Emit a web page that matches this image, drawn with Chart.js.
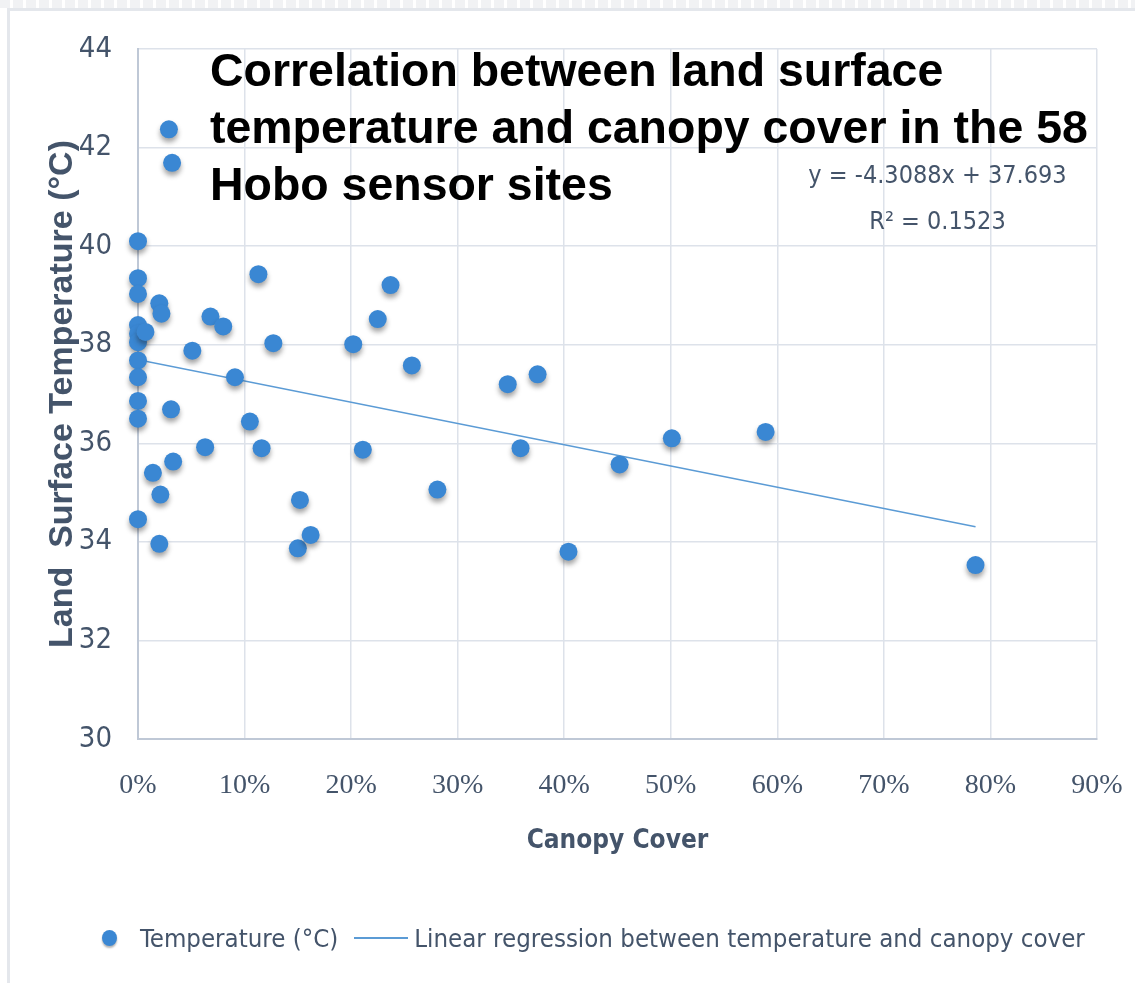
<!DOCTYPE html>
<html>
<head>
<meta charset="utf-8">
<title>Land surface temperature vs canopy cover</title>
<script src="https://cdn.jsdelivr.net/npm/chart.js@4.4.1/dist/chart.umd.min.js"></script>
<style>
  body { margin: 0; background: #fff; }
  #wrap { position: relative; width: 1135px; height: 983px; overflow: hidden; background: #fff; }
  #strip { position: absolute; left: 0; top: 0; width: 1135px; height: 8px;
    background: repeating-linear-gradient(90deg, #f1f2f4 0 10px, #fff 10px 13px); }
  #frame { position: absolute; left: 7px; top: 8px; width: 1200px; height: 1100px;
    border-left: 3px solid #e4e7ec; border-top: 3px solid #e4e7ec; }
  #chart-box { position: absolute; left: 0; top: 0; width: 1135px; height: 983px; }
  #title { position: absolute; left: 210px; top: 42px; font: bold 46px 'Liberation Sans', Arial, sans-serif;
    line-height: 57px; color: #000; transform: scaleX(1.01); transform-origin: left top; white-space: nowrap; }
  #equation { position: absolute; left: 790px; top: 152px; width: 295px; text-align: center; white-space: nowrap;
    font: 25px 'Liberation Sans Narrow', 'DejaVu Sans Condensed', sans-serif; line-height: 46px; color: #44546a; }
  #legend { position: absolute; left: 102px; top: 918px; font: 25.6px 'Liberation Sans Narrow', 'DejaVu Sans Condensed', sans-serif;
    color: #44546a; line-height: 40px; white-space: nowrap; display: flex; align-items: center; }
  .dot { display: inline-block; width: 15px; height: 16px; border-radius: 50%; background: #3a87d3;
    box-shadow: 0 2px 2px rgba(0,0,0,0.3); margin-right: 23px; }
  .seg { display: inline-block; width: 54px; height: 2px; background: #5b9bd5; margin: 0 6px 0 16px; }
</style>
</head>
<body>
<div id="wrap">
  <div id="strip"></div>
  <div id="frame"></div>
  <div id="chart-box"><canvas id="scatter-chart"></canvas></div>
  <div id="title">Correlation between land surface<br>temperature and canopy cover in the 58<br>Hobo sensor sites</div>
  <div id="equation">y = -4.3088x + 37.693<br>R² = 0.1523</div>
  <div id="legend"><span class="dot"></span>Temperature (°C)<span class="seg"></span>Linear regression between temperature and canopy cover</div>
</div>
<script>
  // Canopy cover (fraction) and land surface temperature (°C) per site
  const canopyCover = [
    0, 0, 0, 0, 0, 0, 0, 0, 0, 0, 0,
    0.007, 0.014, 0.020, 0.022, 0.021, 0.020, 0.029, 0.032, 0.031, 0.033,
    0.051, 0.063, 0.068, 0.080, 0.091, 0.105, 0.113, 0.116, 0.127,
    0.150, 0.152, 0.162, 0.202, 0.211, 0.225, 0.237, 0.257, 0.281,
    0.347, 0.359, 0.375, 0.404, 0.452, 0.501, 0.589, 0.786
  ];
  const temperature = [
    40.10, 39.35, 39.03, 38.40, 38.22, 38.05, 37.68, 37.34, 36.86, 36.50, 34.46,
    38.26, 35.40, 38.84, 38.63, 34.96, 33.96, 42.37, 41.69, 36.69, 35.63,
    37.88, 35.92, 38.57, 38.37, 37.34, 36.44, 39.43, 35.90, 38.03,
    33.87, 34.85, 34.14, 38.01, 35.87, 38.52, 39.21, 37.58, 35.06,
    37.20, 35.90, 37.40, 33.80, 35.57, 36.10, 36.23, 33.53
  ];

  // Trend line end points (y = -4.3088x + 37.693)
  const regressionX = [0, 0.786];
  const regressionY = [37.693, 34.306];

  const COLORS = {
    point: '#3a87d3',
    line: '#5b9bd5',
    text: '#44546a',
    grid: '#dde2ea',
    axis: '#bfc8d6'
  };

  const tickFont = "'Liberation Sans Narrow', 'DejaVu Sans Condensed', sans-serif";

  // Soft drop shadow under the markers, like the original
  const pointShadow = {
    id: 'pointShadow',
    beforeDatasetDraw(chart, args) {
      if (args.index !== 0) return;
      const ctx = chart.ctx;
      ctx.save();
      ctx.shadowColor = 'rgba(30,30,30,0.4)';
      ctx.shadowBlur = 5;
      ctx.shadowOffsetY = 4;
    },
    afterDatasetDraw(chart, args) {
      if (args.index !== 0) return;
      chart.ctx.restore();
    }
  };

  const points = canopyCover.map(function (x, i) { return { x: x, y: temperature[i] }; });
  const trend = regressionX.map(function (x, i) { return { x: x, y: regressionY[i] }; });

  new Chart(document.getElementById('scatter-chart'), {
    type: 'scatter',
    data: {
      datasets: [{
        label: 'Temperature (°C)',
        data: points,
        backgroundColor: COLORS.point,
        borderColor: COLORS.point,
        borderWidth: 0,
        pointRadius: 9,
        clip: false,
        order: 1
      }, {
        label: 'Linear regression between temperature and canopy cover',
        type: 'line',
        data: trend,
        borderColor: COLORS.line,
        borderWidth: 1.5,
        pointRadius: 0,
        fill: false,
        order: 2
      }]
    },
    options: {
      responsive: true,
      maintainAspectRatio: false,
      animation: false,
      layout: {
        padding: { left: 10, right: 38, top: 49, bottom: 110 }
      },
      plugins: {
        legend: { display: false },
        tooltip: { enabled: false }
      },
      scales: {
        x: {
          type: 'linear',
          min: 0,
          max: 0.9,
          ticks: {
            stepSize: 0.1,
            padding: 0,
            color: COLORS.text,
            // tall line height pushes the labels down without widening the side padding
            font: { family: "'Liberation Serif', 'Times New Roman', serif", size: 28, lineHeight: 3.3 },
            callback: function (v) { return Math.round(v * 100) + '%'; }
          },
          grid: { color: COLORS.grid, lineWidth: 1.5, drawTicks: false },
          border: { color: COLORS.axis, width: 2 },
          title: {
            display: true,
            text: 'Canopy Cover',
            color: COLORS.text,
            font: { family: tickFont, size: 26, weight: 'bold' },
            padding: { top: 0, bottom: 16 }
          },
          afterFit: function (scale) { scale.height = 983 - 110 - 739; }
        },
        y: {
          min: 30,
          max: 44,
          ticks: {
            stepSize: 2,
            padding: 26,
            color: COLORS.text,
            font: { family: tickFont, size: 29 }
          },
          grid: { color: COLORS.grid, lineWidth: 1.5, drawTicks: false },
          border: { color: COLORS.axis, width: 2 },
          title: {
            display: true,
            text: 'Land  Surface Temperature (°C)',
            color: COLORS.text,
            font: { family: "'Liberation Sans', Arial, sans-serif", size: 34, weight: 'bold' },
            padding: { top: 32, bottom: 0 }
          },
          afterFit: function (scale) { scale.width = 138 - 10; }
        }
      }
    },
    plugins: [pointShadow]
  });
</script>
</body>
</html>
